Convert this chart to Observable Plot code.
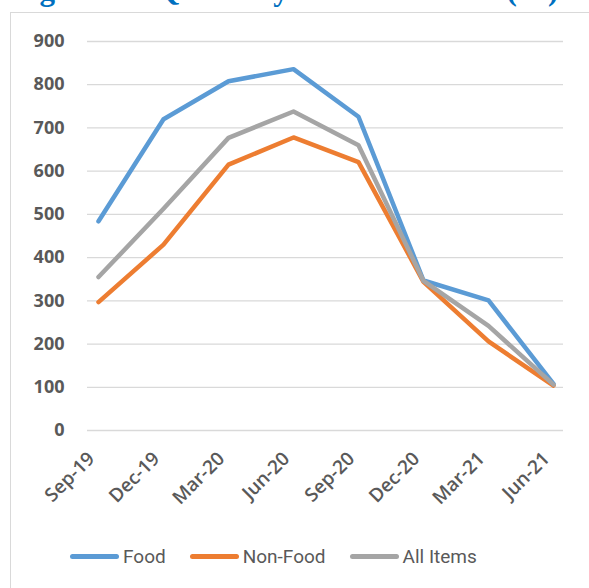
<!DOCTYPE html>
<html>
<head>
<meta charset="utf-8">
<script src="https://cdn.jsdelivr.net/npm/d3@7"></script>
<script src="https://cdn.jsdelivr.net/npm/@observablehq/plot@0.6"></script>
<style>
  html, body { margin: 0; padding: 0; background: #fff; }
  #page { position: relative; width: 589px; height: 588px; overflow: hidden; }
  #title {
    position: absolute; left: 12px; top: -26px; white-space: nowrap;
    font-family: "Liberation Serif", serif; font-weight: bold; font-size: 31px;
    color: #0070C0; line-height: 31px;
  }
  #frame {
    position: absolute; left: 10px; top: 12px; width: 640px; height: 640px;
    border: 1px solid #d9d9d9; box-sizing: border-box;
  }
  #chart { position: absolute; left: 0; top: 0; }
  #legend {
    position: absolute; left: 70px; top: 545px; display: flex; align-items: center;
    font-family: Roboto, sans-serif; font-size: 19px; color: #595959;
  }
  #legend .item { display: flex; align-items: center; margin-right: 24px; }
  #legend .swatch { width: 49px; height: 5px; border-radius: 3px; margin-right: 4px; }
</style>
</head>
<body>
<div id="page">
  <div id="title">Figure 10: Quarterly Inflation Trend (%)</div>
  <div id="frame"></div>
  <div id="chart"></div>
  <div id="legend"></div>
</div>
<script>
// Quarter labels along the x axis
const quarters = ["Sep-19", "Dec-19", "Mar-20", "Jun-20", "Sep-20", "Dec-20", "Mar-21", "Jun-21"];

// Quarterly inflation per series
const food    = [484, 720, 808, 836, 726, 347, 301, 108];
const nonFood = [297, 430, 615, 678, 621, 344, 206, 104];
const allItems = [355, 513, 677, 738, 660, 346, 242, 106];

const seriesNames = ["Food", "Non-Food", "All Items"];
const seriesColors = ["#5B9BD5", "#ED7D31", "#A5A5A5"];
const yTicks = [0, 100, 200, 300, 400, 500, 600, 700, 800, 900];

const rows = [];
[food, nonFood, allItems].forEach((vals, s) => {
  vals.forEach((v, i) => rows.push({series: seriesNames[s], quarter: quarters[i], value: v}));
});

const chart = Plot.plot({
  width: 589,
  height: 530,
  marginLeft: 87,
  marginRight: 26,
  marginTop: 41,
  marginBottom: 100,
  x: {type: "point", domain: quarters, padding: 0, insetLeft: 10, insetRight: 10},
  y: {domain: [0, 900]},
  color: {domain: seriesNames, range: seriesColors},
  style: {background: "transparent", overflow: "visible"},
  marks: [
    Plot.ruleY(yTicks, {stroke: "#d9d9d9", strokeWidth: 1.3}),
    Plot.axisY(yTicks, {
      tickSize: 0, tickPadding: 23, label: null,
      fontFamily: "Open Sans", fontWeight: "bold", fontSize: 18, fill: "#595959"
    }),
    Plot.axisX({
      tickSize: 0, tickPadding: 25, tickRotate: -45, label: null, dx: -7,
      fontFamily: "Open Sans", fontWeight: 600, fontSize: 19, fill: "#595959"
    }),
    Plot.line(rows, {
      x: "quarter", y: "value", z: "series", stroke: "series",
      strokeWidth: 4.5, strokeLinecap: "round", strokeLinejoin: "round"
    })
  ]
});
document.getElementById("chart").appendChild(chart);

// Legend below the chart
const legend = document.getElementById("legend");
seriesNames.forEach((name, i) => {
  const item = document.createElement("div");
  item.className = "item";
  const sw = document.createElement("div");
  sw.className = "swatch";
  sw.style.background = seriesColors[i];
  const label = document.createElement("span");
  label.textContent = name;
  item.appendChild(sw);
  item.appendChild(label);
  legend.appendChild(item);
});
</script>
</body>
</html>
